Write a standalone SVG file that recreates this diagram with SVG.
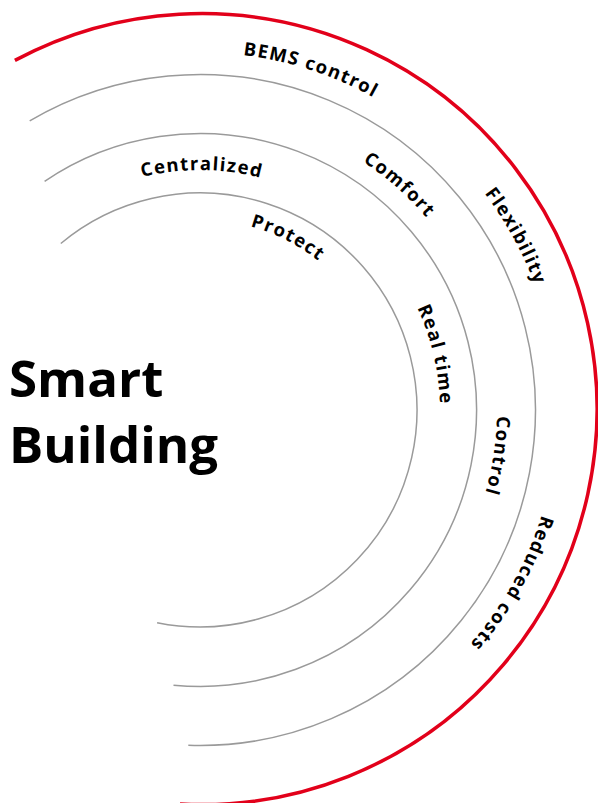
<svg xmlns="http://www.w3.org/2000/svg" xmlns:xlink="http://www.w3.org/1999/xlink" width="598" height="803" viewBox="0 0 598 803">
  <style>
    .ring { fill: none; stroke: #9a9a9a; stroke-width: 1.5; }
    .red { fill: none; stroke: #e2001a; stroke-width: 3.5; }
    .lbl { font-family: "Open Sans", "Liberation Sans", sans-serif; font-weight: 700; font-size: 18.5px; letter-spacing: 1.4px; fill: #000; }
    .title { font-family: "Open Sans", "Liberation Sans", sans-serif; font-weight: 700; font-size: 51px; fill: #000; }
  </style>
  <defs>
    <path id="c190" d="M 9.5 410 A 190.5 190.5 0 0 1 390.5 410 A 190.5 190.5 0 0 1 9.5 410"/>
    <path id="c240" d="M -40 410 A 240 240 0 0 1 440 410 A 240 240 0 0 1 -40 410"/>
    <path id="c297" d="M -97 410 A 297 297 0 0 1 497 410 A 297 297 0 0 1 -97 410"/>
    <path id="c357" d="M -157.5 410 A 357.5 357.5 0 0 1 557.5 410 A 357.5 357.5 0 0 1 -157.5 410"/>
  </defs>
  <g id="connectors">
    <path id="arc-inner" class="ring" d="M 60.8 243.5 A 217 217 0 1 1 157.1 622.7"/>
    <path id="arc-2" class="ring" d="M 44.6 181.3 A 276.5 276.5 0 1 1 173.5 685.2"/>
    <path id="arc-3" class="ring" d="M 29.7 120.9 A 335.5 335.5 0 1 1 188.3 745.3"/>
    <path id="arc-red" class="red" d="M 14.9 60.4 A 395.5 395.5 0 1 1 180 804"/>
  </g>
  <g id="title">
    <text class="title" x="9" y="397">Smart</text>
    <text class="title" x="9" y="463">Building</text>
  </g>
  <g id="protect"><text class="lbl" text-anchor="middle"><textPath xlink:href="#c190" startOffset="389">Protect</textPath></text></g>
  <g id="centralized"><text class="lbl" text-anchor="middle"><textPath xlink:href="#c240" startOffset="378.7">Centralized</textPath></text></g>
  <g id="real-time"><text class="lbl" text-anchor="middle"><textPath xlink:href="#c240" startOffset="698.3">Real time</textPath></text></g>
  <g id="comfort"><text class="lbl" text-anchor="middle"><textPath xlink:href="#c297" startOffset="681.6">Comfort</textPath></text></g>
  <g id="control"><text class="lbl" text-anchor="middle"><textPath xlink:href="#c297" startOffset="978.1">Control</textPath></text></g>
  <g id="bems-control"><text class="lbl" text-anchor="middle"><textPath xlink:href="#c357" startOffset="673.9">BEMS control</textPath></text></g>
  <g id="flexibility"><text class="lbl" text-anchor="middle"><textPath xlink:href="#c357" startOffset="942.8">Flexibility</textPath></text></g>
  <g id="reduced-costs"><text class="lbl" text-anchor="middle"><textPath xlink:href="#c357" startOffset="1304.1">Reduced costs</textPath></text></g>
</svg>
